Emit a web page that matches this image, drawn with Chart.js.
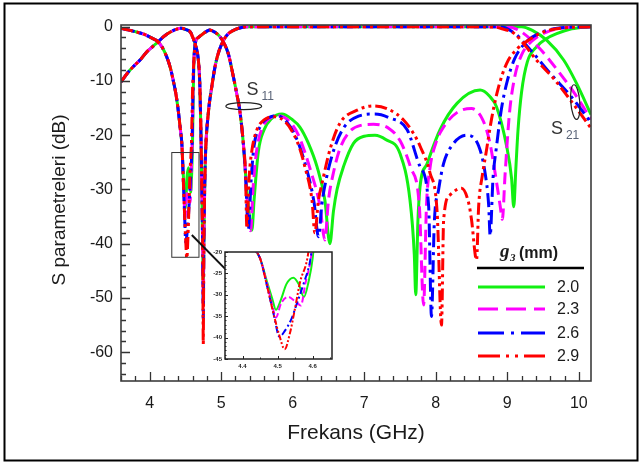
<!DOCTYPE html>
<html>
<head>
<meta charset="utf-8">
<script src="https://cdn.jsdelivr.net/npm/chart.js@4.4.1/dist/chart.umd.min.js"></script>
<style>
  html, body { margin:0; padding:0; background:#fff; overflow:hidden; }
  #wrap { position:relative; width:642px; height:463px; }
  #main { position:absolute; left:0; top:0; }
  #inset { position:absolute; left:195px; top:245px; }
</style>
</head>
<body>
<div id="wrap">
  <canvas id="main" width="642" height="463"></canvas>
  <canvas id="inset" width="142" height="130"></canvas>
</div>
<script>
// ---- data (frequency GHz, dB) ----
const G3 = ['2.0', '2.3', '2.6', '2.9'];
const X_TICKS = [4, 5, 6, 7, 8, 9, 10];
const Y_TICKS = [0, -10, -20, -30, -40, -50, -60];
const INSET_X_TICKS = [4.4, 4.5, 4.6];
const INSET_Y_TICKS = [-20, -25, -30, -35, -40, -45];

// S11, shared part below the first dip
const s11Start = [[3.6,-0.3],[3.7,-0.6],[3.82,-1],[3.92,-1.4],[4.0,-1.9],[4.06,-2.3],[4.12,-2.8],[4.18,-3.9],
  [4.24,-5.6],[4.29,-7.6],[4.33,-9.9],[4.37,-12.6],[4.4,-15.4],[4.43,-19],[4.45,-21.5]];
// S11 first dip (inset region), per g3
const s11Dip20 = [[4.47,-27],[4.485,-31],[4.495,-33.5],[4.51,-31],[4.525,-27.5],[4.545,-26],[4.56,-27.5],[4.575,-30.5],[4.588,-27],[4.6,-21.4],[4.61,-12],[4.62,-6]];
const s11Dip23 = [[4.47,-27.5],[4.485,-32.5],[4.495,-35.3],[4.51,-32],[4.53,-30.5],[4.55,-31.5],[4.566,-32.5],[4.58,-27],[4.595,-21.4],[4.607,-12],[4.62,-6]];
const s11Dip26 = [[4.47,-28],[4.49,-35],[4.505,-39.8],[4.52,-38.5],[4.54,-35.5],[4.555,-32],[4.574,-27.4],[4.594,-21.4],[4.607,-12],[4.62,-6]];
const s11Dip29 = [[4.47,-28],[4.49,-35],[4.505,-39.5],[4.52,-42.7],[4.535,-39],[4.55,-33],[4.564,-27],[4.585,-21.4],[4.6,-12],[4.62,-6]];
// S11 shared hump near 4.84 GHz
const s11HumpB = [[4.64,-3],[4.68,-2],[4.72,-1.6],[4.77,-1.1],[4.84,-0.6],[4.92,-1.1],[4.98,-1.8],[5.03,-2.8],
  [5.1,-5],[5.17,-9.2],[5.22,-12.5],[5.26,-15.4],[5.31,-21.5],[5.34,-27]];
// S11 upper band, per g3
const s11Rest20 = [[5.38,-33],[5.43,-37.5],[5.46,-32],[5.52,-23],[5.6,-19],[5.7,-17],[5.85,-16.1],[6.0,-17.2],[6.1,-18.5],
  [6.22,-21.5],[6.34,-25.8],[6.45,-32],[6.52,-40],[6.57,-34],[6.62,-30],[6.71,-25.8],[6.85,-21.5],[7.0,-20.2],[7.15,-20],
  [7.3,-20.8],[7.5,-23.4],[7.64,-32],[7.7,-42],[7.72,-49.4],[7.75,-36],[7.78,-29.5],[7.88,-25.2],[8.06,-19],[8.3,-14.1],
  [8.62,-11.7],[8.75,-12.8],[8.85,-14.8],[8.99,-22],[9.06,-28],[9.09,-33.2],[9.12,-26],[9.15,-19],[9.2,-12],[9.28,-6.5],
  [9.41,-3.7],[9.55,-2.2],[9.69,-1.3],[9.9,-0.4],[10.17,0]];
const s11Rest23 = [[5.38,-35],[5.41,-37.6],[5.45,-29],[5.5,-22.5],[5.58,-18.5],[5.68,-16.9],[5.8,-16.4],[5.95,-17.4],[6.08,-20],
  [6.25,-26.5],[6.38,-33],[6.45,-39.3],[6.5,-32],[6.56,-27.5],[6.66,-22.5],[6.8,-19.3],[6.95,-18.2],[7.13,-18],[7.35,-18.8],
  [7.5,-21],[7.65,-26],[7.77,-33],[7.83,-51.3],[7.87,-33],[7.92,-26],[8.0,-21.5],[8.11,-18.5],[8.3,-15.8],[8.5,-15.1],
  [8.65,-17],[8.75,-21],[8.83,-27],[8.9,-33],[8.93,-35.5],[8.97,-27],[9.03,-16],[9.1,-9.5],[9.2,-5.2],[9.35,-2.6],
  [9.55,-1],[9.8,-0.2],[10.17,0]];
const s11Rest26 = [[5.38,-37.4],[5.42,-28],[5.46,-22],[5.55,-18.3],[5.65,-16.9],[5.78,-16.4],[5.92,-17.6],[6.05,-20.5],
  [6.2,-26.5],[6.3,-32.5],[6.36,-38.7],[6.41,-32.5],[6.47,-28],[6.58,-22.5],[6.72,-18.5],[6.92,-16.5],[7.15,-16.1],
  [7.35,-16.8],[7.6,-19],[7.78,-25.8],[7.9,-33],[7.94,-53.4],[7.98,-36],[8.04,-30],[8.11,-25.2],[8.25,-21.5],[8.43,-20],
  [8.6,-22],[8.69,-27],[8.74,-33],[8.76,-38.5],[8.8,-28],[8.85,-22],[8.92,-15],[9.0,-10],[9.1,-6],[9.25,-3],[9.45,-1.2],
  [9.7,-0.3],[10.17,0]];
const s11Rest29 = [[5.36,-37.2],[5.39,-28],[5.43,-22.8],[5.5,-19],[5.6,-17.2],[5.75,-16.6],[5.9,-17.6],[6.01,-19.7],
  [6.1,-22.5],[6.17,-25.8],[6.27,-32],[6.31,-38],[6.36,-32],[6.41,-28.9],[6.52,-22.7],[6.66,-17.8],[6.9,-15.4],[7.13,-14.6],
  [7.35,-15.3],[7.55,-17.2],[7.68,-19.5],[7.78,-22],[7.92,-27],[8.02,-34.4],[8.08,-55],[8.11,-35.6],[8.2,-31],[8.36,-29.8],
  [8.46,-32.5],[8.5,-35.6],[8.57,-43],[8.6,-33],[8.65,-27.5],[8.7,-23.5],[8.78,-17],[8.87,-11.5],[8.99,-6.8],[9.13,-4.2],
  [9.32,-2.3],[9.5,-1],[9.75,-0.3],[10.17,0]];

// S21
const s21Start = [[3.6,-10.2],[3.7,-8.4],[3.8,-7],[3.87,-6.1],[3.95,-4.8],[4.05,-3.6],[4.12,-2.8],[4.2,-1.8],[4.29,-1],
  [4.37,-0.5],[4.44,-0.3],[4.52,-0.6],[4.57,-1],[4.61,-2.2],[4.65,-3.8],[4.68,-6],[4.7,-10],[4.715,-18],[4.73,-30],[4.743,-42]];
const s21Notch = [-48, -51, -54, -58.5];
const s21Mid = [[4.757,-42],[4.768,-31],[4.78,-24],[4.82,-16],[4.87,-11],[4.92,-7],[4.97,-4.5],[5.03,-2.6],[5.1,-1.3],
  [5.2,-0.5],[5.3,-0.1],[5.4,0]];
const s21End20 = [[9.2,0],[9.35,-0.7],[9.55,-2.5],[9.79,-6.2],[9.97,-10.5],[10.17,-16.2]];
const s21End23 = [[9.0,0],[9.2,-1],[9.45,-4],[9.7,-8],[9.95,-12.5],[10.17,-17.1]];
const s21End26 = [[8.9,0],[9.1,-1.2],[9.35,-4.7],[9.6,-8.6],[9.9,-13],[10.17,-17.7]];
const s21End29 = [[8.8,-0.05],[8.95,-0.5],[9.09,-1.2],[9.25,-3.5],[9.41,-6.2],[9.65,-9.6],[9.88,-13.5],[10.17,-18.7]];

const S11 = [
  [...s11Start, ...s11Dip20, ...s11HumpB, ...s11Rest20],
  [...s11Start, ...s11Dip23, ...s11HumpB, ...s11Rest23],
  [...s11Start, ...s11Dip26, ...s11HumpB, ...s11Rest26],
  [...s11Start, ...s11Dip29, ...s11HumpB, ...s11Rest29]
];
const S21 = [s21End20, s21End23, s21End26, s21End29].map((end, i) =>
  [...s21Start, [4.75, s21Notch[i]], ...s21Mid, ...end]);

// ---- styles ----
const FONT = "'Liberation Sans', Arial, sans-serif";
const COLORS = ['#12f012', '#ff00ff', '#0000ff', '#ff0000'];
const DASH = [[], [12, 6], [14, 5, 3, 5], [12, 4, 3, 4, 3, 4]];
const DASH_LEGEND = [[], [20, 8], [26, 7, 3, 7], [22, 6, 3, 6, 3, 6]];
const DASH_INSET = [[], [6, 3], [7, 3, 2, 3], [6, 2, 2, 2, 2, 2]];

const toXY = arr => arr.map(([x, y]) => ({x, y}));

function makeDatasets(width, dashes, withS21) {
  const out = [];
  G3.forEach((g, i) => {
    const base = {
      borderColor: COLORS[i], borderWidth: width, borderDash: dashes[i],
      pointRadius: 0, cubicInterpolationMode: 'monotone', fill: false,
      order: 3 - i
    };
    out.push(Object.assign({label: 'S11 ' + g, data: toXY(S11[i])}, base));
    if (withS21) out.push(Object.assign({label: 'S21 ' + g, data: toXY(S21[i])}, base));
  });
  return out;
}

// annotation anchors in data units
const ZOOM_BOX = {f0: 4.31, f1: 4.69, d0: -23.2, d1: -42.5};
const ARROW = {f0: 4.59, d0: -38.4, f1: 5.21, d1: -46.7};
const S11_MARK = {f: 5.316, d: -14.65, rf: 0.25, rd: 0.65, tf: 5.355, td: -12.6};
const S21_MARK = {f: 9.95, d: -13.9, rf: 0.063, rd: 3.2, tf: 9.61, td: -19.7};

function drawS(ctx, x, y, sub) {
  ctx.fillStyle = '#333';
  ctx.font = '18px ' + FONT;
  ctx.textAlign = 'left'; ctx.textBaseline = 'alphabetic';
  ctx.fillText('S', x, y);
  const w = ctx.measureText('S').width;
  ctx.fillStyle = '#5a6478';
  ctx.font = '12px ' + FONT;
  ctx.fillText(sub, x + w + 3, y + 5);
}

const mainDecor = {
  id: 'mainDecor',
  beforeDraw(chart) {
    const ctx = chart.ctx;
    ctx.save(); ctx.fillStyle = '#fff'; ctx.fillRect(0, 0, chart.width, chart.height); ctx.restore();
  },
  afterDatasetsDraw(chart) {
    const {ctx} = chart; const x = chart.scales.x, y = chart.scales.y;
    ctx.save();
    // zoom box
    ctx.strokeStyle = '#333'; ctx.lineWidth = 1;
    const bx0 = x.getPixelForValue(ZOOM_BOX.f0), bx1 = x.getPixelForValue(ZOOM_BOX.f1);
    const by0 = y.getPixelForValue(ZOOM_BOX.d0), by1 = y.getPixelForValue(ZOOM_BOX.d1);
    ctx.strokeRect(bx0, by0, bx1 - bx0, by1 - by0);
    // arrow
    const ax0 = x.getPixelForValue(ARROW.f0), ay0 = y.getPixelForValue(ARROW.d0);
    const ax1 = x.getPixelForValue(ARROW.f1), ay1 = y.getPixelForValue(ARROW.d1);
    const ang = Math.atan2(ay1 - ay0, ax1 - ax0);
    ctx.strokeStyle = '#111'; ctx.fillStyle = '#111'; ctx.lineWidth = 2;
    ctx.beginPath(); ctx.moveTo(ax0, ay0);
    ctx.lineTo(ax1 - 8 * Math.cos(ang), ay1 - 8 * Math.sin(ang)); ctx.stroke();
    ctx.beginPath(); ctx.moveTo(ax1, ay1);
    ctx.lineTo(ax1 - 11 * Math.cos(ang) + 4 * Math.sin(ang), ay1 - 11 * Math.sin(ang) - 4 * Math.cos(ang));
    ctx.lineTo(ax1 - 11 * Math.cos(ang) - 4 * Math.sin(ang), ay1 - 11 * Math.sin(ang) + 4 * Math.cos(ang));
    ctx.closePath(); ctx.fill();
    // ellipses + labels
    ctx.strokeStyle = '#222'; ctx.lineWidth = 1.2;
    [[S11_MARK, 0], [S21_MARK, -0.08]].forEach(([m, rot]) => {
      const cx = x.getPixelForValue(m.f), cy = y.getPixelForValue(m.d);
      const rx = Math.abs(x.getPixelForValue(m.f + m.rf) - cx);
      const ry = Math.abs(y.getPixelForValue(m.d + m.rd) - cy);
      ctx.beginPath(); ctx.ellipse(cx, cy, rx, ry, rot, 0, Math.PI * 2); ctx.stroke();
    });
    drawS(ctx, x.getPixelForValue(S11_MARK.tf), y.getPixelForValue(S11_MARK.td), '11');
    drawS(ctx, x.getPixelForValue(S21_MARK.tf), y.getPixelForValue(S21_MARK.td), '21');
    ctx.restore();
  },
  afterDraw(chart) {
    const {ctx, chartArea: a} = chart; const x = chart.scales.x, y = chart.scales.y;
    ctx.save();
    // inward ticks
    ctx.strokeStyle = '#333'; ctx.lineWidth = 1.3;
    ctx.beginPath();
    for (let i = 18; i <= 50; i++) {
      const v = i / 5; const major = i % 5 === 0;
      const px = Math.round(x.getPixelForValue(v)) + 0.5;
      ctx.moveTo(px, a.bottom); ctx.lineTo(px, a.bottom - (major ? 9 : 5));
    }
    for (let v = -64; v <= 0; v += 2) {
      const major = v % 10 === 0;
      const py = Math.round(y.getPixelForValue(v)) + 0.5;
      ctx.moveTo(a.left, py); ctx.lineTo(a.left + (major ? 9 : 5), py);
    }
    ctx.stroke();
    // plot frame
    ctx.strokeStyle = '#3c3c3c'; ctx.lineWidth = 1.6;
    ctx.strokeRect(a.left, a.top, a.right - a.left, a.bottom - a.top);
    // outer frame
    ctx.strokeStyle = '#000'; ctx.lineWidth = 2;
    ctx.strokeRect(4.5, 3.5, 633, 457);
    // axis titles
    ctx.fillStyle = '#1a1a1a';
    ctx.textAlign = 'center'; ctx.textBaseline = 'middle';
    ctx.font = '21px ' + FONT;
    ctx.fillText('Frekans (GHz)', (a.left + a.right) / 2, 433);
    ctx.save();
    ctx.translate(60, (a.top + a.bottom) / 2 - 3);
    ctx.rotate(-Math.PI / 2);
    ctx.font = '19px ' + FONT;
    ctx.fillText('S parametreleri (dB)', 0, 0);
    ctx.restore();
    // legend
    ctx.textAlign = 'left'; ctx.textBaseline = 'alphabetic';
    ctx.font = 'italic bold 19px "Liberation Serif", serif';
    ctx.fillText('g', 500, 257);
    ctx.font = 'italic bold 11px "Liberation Serif", serif';
    ctx.fillText('3', 510, 261);
    ctx.font = 'bold 16px ' + FONT;
    ctx.fillText('(mm)', 519, 258);
    ctx.lineWidth = 2.5; ctx.strokeStyle = '#000';
    ctx.beginPath(); ctx.moveTo(477, 268); ctx.lineTo(584, 268); ctx.stroke();
    const ly = [287, 309, 333, 356];
    ctx.font = '16px ' + FONT; ctx.textBaseline = 'middle';
    G3.forEach((g, i) => {
      ctx.strokeStyle = COLORS[i]; ctx.lineWidth = 3; ctx.setLineDash(DASH_LEGEND[i]);
      ctx.beginPath(); ctx.moveTo(478, ly[i]); ctx.lineTo(545, ly[i]); ctx.stroke();
      ctx.setLineDash([]);
      ctx.fillStyle = '#1a1a1a';
      ctx.fillText(g, 557, ly[i] + 1);
    });
    ctx.restore();
  }
};

new Chart(document.getElementById('main'), {
  type: 'line',
  data: {datasets: makeDatasets(3, DASH, true)},
  options: {
    responsive: false, animation: false, devicePixelRatio: 1,
    layout: {padding: {left: 0, top: 25, right: 51, bottom: 0}},
    plugins: {legend: {display: false}, tooltip: {enabled: false}},
    scales: {
      x: {
        type: 'linear', min: 3.6, max: 10.17,
        afterBuildTicks: s => { s.ticks = X_TICKS.map(v => ({value: v})); },
        afterFit: s => { s.height = 82; },
        grid: {display: false, drawTicks: false}, border: {display: false},
        ticks: {font: {family: FONT, size: 16}, color: '#1a1a1a', padding: 13, maxRotation: 0}
      },
      y: {
        type: 'linear', min: -65.3, max: 0.3,
        afterBuildTicks: s => { s.ticks = Y_TICKS.map(v => ({value: v})); },
        afterFit: s => { s.width = 121; },
        grid: {display: false, drawTicks: false}, border: {display: false},
        ticks: {font: {family: FONT, size: 16}, color: '#1a1a1a', padding: 8}
      }
    }
  },
  plugins: [mainDecor]
});

// ---- inset ----
const insetDecor = {
  id: 'insetDecor',
  beforeDraw(chart) {
    const {ctx, chartArea: a} = chart;
    ctx.save(); ctx.fillStyle = '#fff';
    ctx.fillRect(a.left, a.top, a.right - a.left, a.bottom - a.top);
    ctx.restore();
  },
  afterDraw(chart) {
    const {ctx, chartArea: a} = chart; const x = chart.scales.x, y = chart.scales.y;
    ctx.save();
    ctx.strokeStyle = '#222'; ctx.lineWidth = 1;
    ctx.beginPath();
    for (let v = -45; v <= -20; v++) {
      const py = Math.round(y.getPixelForValue(v)) + 0.5;
      ctx.moveTo(a.left, py); ctx.lineTo(a.left + (v % 5 === 0 ? 3 : 1.5), py);
    }
    for (let i = 87; i <= 131; i++) {
      const v = i / 20; if (v < 4.35 || v > 4.655) continue;
      const px = Math.round(x.getPixelForValue(v)) + 0.5;
      ctx.moveTo(px, a.bottom); ctx.lineTo(px, a.bottom - (i % 2 === 0 ? 3 : 1.5));
    }
    ctx.stroke();
    ctx.lineWidth = 1.5; ctx.strokeStyle = '#222';
    ctx.strokeRect(a.left, a.top, a.right - a.left, a.bottom - a.top);
    ctx.restore();
  }
};

new Chart(document.getElementById('inset'), {
  type: 'line',
  data: {datasets: makeDatasets(2, DASH_INSET, false)},
  options: {
    responsive: false, animation: false, devicePixelRatio: 1,
    layout: {padding: {left: 0, top: 7, right: 5, bottom: 0}},
    plugins: {legend: {display: false}, tooltip: {enabled: false}},
    scales: {
      x: {
        type: 'linear', min: 4.35, max: 4.655,
        afterBuildTicks: s => { s.ticks = INSET_X_TICKS.map(v => ({value: v})); },
        afterFit: s => { s.height = 16; },
        grid: {display: false, drawTicks: false}, border: {display: false},
        ticks: {font: {family: FONT, size: 6, weight: 'bold'}, color: '#222', padding: 4, maxRotation: 0,
          callback: v => Number(v).toFixed(1)}
      },
      y: {
        type: 'linear', min: -45, max: -20,
        afterBuildTicks: s => { s.ticks = INSET_Y_TICKS.map(v => ({value: v})); },
        afterFit: s => { s.width = 30; },
        grid: {display: false, drawTicks: false}, border: {display: false},
        ticks: {font: {family: FONT, size: 6, weight: 'bold'}, color: '#222', padding: 3}
      }
    }
  },
  plugins: [insetDecor]
});
</script>
</body>
</html>
